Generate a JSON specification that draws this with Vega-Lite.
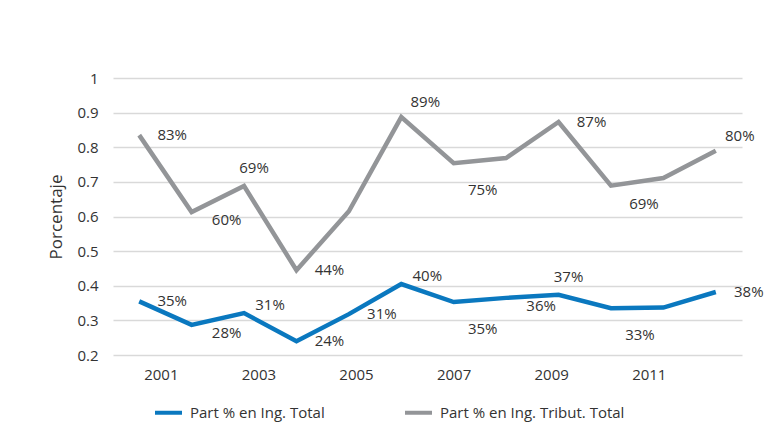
{
  "$schema": "https://vega.github.io/schema/vega-lite/v6.json",
  "width": 629,
  "height": 277,
  "autosize": "none",
  "padding": {"left": 113, "top": 78, "right": 29, "bottom": 78},
  "background": "white",
  "config": {
    "font": "Open Sans",
    "view": {"stroke": null},
    "axis": {"labelFont": "Open Sans", "titleFont": "Open Sans", "labelColor": "#333333", "titleColor": "#333333", "labelFontSize": 15, "titleFontSize": 15, "titleFontWeight": "normal"},
    "legend": {"labelFont": "Open Sans", "labelFontSize": 15, "labelColor": "#333333"}
  },
  "data": {
    "values": [
      {"year": 2001, "serie": "Part % en Ing. Total", "value": 0.355, "label": "35%"},
      {"year": 2002, "serie": "Part % en Ing. Total", "value": 0.287, "label": "28%"},
      {"year": 2003, "serie": "Part % en Ing. Total", "value": 0.321, "label": "31%"},
      {"year": 2004, "serie": "Part % en Ing. Total", "value": 0.24, "label": "24%"},
      {"year": 2005, "serie": "Part % en Ing. Total", "value": 0.318, "label": "31%"},
      {"year": 2006, "serie": "Part % en Ing. Total", "value": 0.405, "label": "40%"},
      {"year": 2007, "serie": "Part % en Ing. Total", "value": 0.353, "label": "35%"},
      {"year": 2008, "serie": "Part % en Ing. Total", "value": 0.365, "label": "36%"},
      {"year": 2009, "serie": "Part % en Ing. Total", "value": 0.374, "label": "37%"},
      {"year": 2010, "serie": "Part % en Ing. Total", "value": 0.335, "label": "33%"},
      {"year": 2011, "serie": "Part % en Ing. Total", "value": 0.337, "label": ""},
      {"year": 2012, "serie": "Part % en Ing. Total", "value": 0.382, "label": "38%"},
      {"year": 2001, "serie": "Part % en Ing. Tribut. Total", "value": 0.835, "label": "83%"},
      {"year": 2002, "serie": "Part % en Ing. Tribut. Total", "value": 0.613, "label": "60%"},
      {"year": 2003, "serie": "Part % en Ing. Tribut. Total", "value": 0.688, "label": "69%"},
      {"year": 2004, "serie": "Part % en Ing. Tribut. Total", "value": 0.445, "label": "44%"},
      {"year": 2005, "serie": "Part % en Ing. Tribut. Total", "value": 0.615, "label": ""},
      {"year": 2006, "serie": "Part % en Ing. Tribut. Total", "value": 0.887, "label": "89%"},
      {"year": 2007, "serie": "Part % en Ing. Tribut. Total", "value": 0.754, "label": "75%"},
      {"year": 2008, "serie": "Part % en Ing. Tribut. Total", "value": 0.769, "label": ""},
      {"year": 2009, "serie": "Part % en Ing. Tribut. Total", "value": 0.873, "label": "87%"},
      {"year": 2010, "serie": "Part % en Ing. Tribut. Total", "value": 0.689, "label": "69%"},
      {"year": 2011, "serie": "Part % en Ing. Tribut. Total", "value": 0.711, "label": ""},
      {"year": 2012, "serie": "Part % en Ing. Tribut. Total", "value": 0.79, "label": "80%"}
    ]
  },
  "layer": [
    {
      "encoding": {
        "x": {
          "field": "year", "type": "ordinal",
          "scale": {"type": "point", "padding": 0.5},
          "axis": null
        },
        "y": {
          "field": "value", "type": "quantitative",
          "scale": {"domain": [0.2, 1], "nice": false, "zero": false},
          "axis": {"title": "Porcentaje", "titleFontSize": 17, "values": [0.2, 0.3, 0.4, 0.5, 0.6, 0.7, 0.8, 0.9, 1], "format": ".1~f", "domain": false, "ticks": false, "gridColor": "#d9d9d9", "gridWidth": 1.5, "labelPadding": 15, "titlePadding": 11}
        }
      },
      "layer": [
        {
          "mark": {"type": "line", "strokeWidth": 4.5},
          "encoding": {
            "color": {
              "field": "serie", "type": "nominal",
              "scale": {"domain": ["Part % en Ing. Total", "Part % en Ing. Tribut. Total"], "range": ["#0a78bf", "#939598"]},
              "legend": {"title": null, "orient": "none", "direction": "horizontal", "legendX": 40, "legendY": 319, "symbolType": "stroke", "symbolSize": 729, "symbolStrokeWidth": 4, "labelOffset": 6, "columnPadding": 72, "labelLimit": 0}
            }
          }
        },
        {
          "transform": [{"filter": "(datum.serie == 'Part % en Ing. Total' && indexof([2001,2004,2005,2012], datum.year) >= 0) || (datum.serie != 'Part % en Ing. Total' && indexof([2001,2004,2009], datum.year) >= 0)"}],
          "mark": {"type": "text", "dx": 33, "dy": 0, "fontSize": 15, "color": "#333333", "align": "center", "baseline": "middle"},
          "encoding": {"text": {"field": "label"}}
        },
        {
          "transform": [{"filter": "(datum.serie == 'Part % en Ing. Total' && indexof([2007,2010], datum.year) >= 0) || (datum.serie != 'Part % en Ing. Total' && indexof([2007], datum.year) >= 0)"}],
          "mark": {"type": "text", "dx": 29, "dy": 27, "fontSize": 15, "color": "#333333", "align": "center", "baseline": "middle"},
          "encoding": {"text": {"field": "label"}}
        },
        {
          "transform": [{"filter": "(datum.serie == 'Part % en Ing. Total' && indexof([2002,2008], datum.year) >= 0) || (datum.serie != 'Part % en Ing. Total' && indexof([2002], datum.year) >= 0)"}],
          "mark": {"type": "text", "dx": 35, "dy": 8, "fontSize": 15, "color": "#333333", "align": "center", "baseline": "middle"},
          "encoding": {"text": {"field": "label"}}
        },
        {
          "transform": [{"filter": "datum.serie != 'Part % en Ing. Total' && datum.year == 2010"}],
          "mark": {"type": "text", "dx": 33, "dy": 18, "fontSize": 15, "color": "#333333", "align": "center", "baseline": "middle"},
          "encoding": {"text": {"field": "label"}}
        },
        {
          "transform": [{"filter": "datum.serie != 'Part % en Ing. Total' && indexof([2006,2012], datum.year) >= 0"}],
          "mark": {"type": "text", "dx": 24, "dy": -15, "fontSize": 15, "color": "#333333", "align": "center", "baseline": "middle"},
          "encoding": {"text": {"field": "label"}}
        },
        {
          "transform": [{"filter": "(datum.serie == 'Part % en Ing. Total' && datum.year == 2009) || (datum.serie != 'Part % en Ing. Total' && datum.year == 2003)"}],
          "mark": {"type": "text", "dx": 10, "dy": -18, "fontSize": 15, "color": "#333333", "align": "center", "baseline": "middle"},
          "encoding": {"text": {"field": "label"}}
        },
        {
          "transform": [{"filter": "datum.serie == 'Part % en Ing. Total' && indexof([2003,2006], datum.year) >= 0"}],
          "mark": {"type": "text", "dx": 26, "dy": -8, "fontSize": 15, "color": "#333333", "align": "center", "baseline": "middle"},
          "encoding": {"text": {"field": "label"}}
        }
      ]
    },
    {
      "mark": {"type": "point", "opacity": 0},
      "encoding": {
        "x": {
          "field": "year", "type": "quantitative",
          "scale": {"domain": [2000.02, 2012.91], "nice": false, "zero": false},
          "axis": {"orient": "bottom", "title": null, "values": [2001, 2003, 2005, 2007, 2009, 2011], "format": "d", "labelAngle": 0, "domain": false, "ticks": false, "grid": false, "labelPadding": 12}
        }
      }
    }
  ],
  "resolve": {"scale": {"x": "independent"}, "axis": {"x": "independent"}}
}
